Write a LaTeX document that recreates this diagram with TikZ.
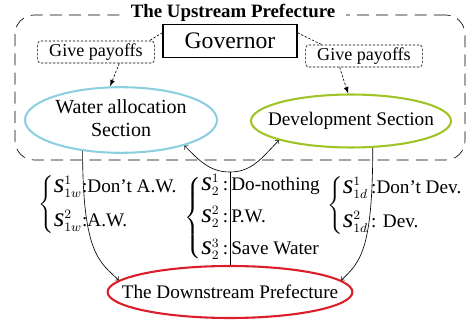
\documentclass[tikz,border=0pt]{standalone}
\usepackage{fontspec}
\setmainfont{Liberation Serif}
\usepackage{amsmath}
\usetikzlibrary{arrows,shapes,calc}
\definecolor{wablue}{RGB}{140,208,224}
\definecolor{devgreen}{RGB}{160,196,40}
\definecolor{downred}{RGB}{220,30,40}
\newcommand{\sv}[2]{\mbox{\fontsize{17}{17}\selectfont\textit{s}}^{#1}_{#2}}
\newcommand{\nowd}[1]{\makebox[0pt]{#1}}

\begin{document}
\begin{tikzpicture}[x=0.625pt, y=-0.625pt, font=\fontsize{12}{14}\selectfont,
	section/.style={ellipse, line width=1.3pt, inner sep=0pt},
	payoff/.style={draw, dash pattern=on 1.5pt off 1pt, rounded corners=2pt, minimum width=73pt, minimum height=13.8pt, inner sep=0pt, font=\fontsize{11.3}{13}\selectfont},
	strat/.style={anchor=west, inner sep=0pt}]
	\useasboundingbox (0,0) rectangle (475,323);
	\node[draw, dash pattern=on 7.5pt off 4.5pt, rounded corners=12pt, minimum width=281.25pt, minimum height=90.6pt] (upper) at (240,87.5) {};
	\node[fill=white, inner xsep=7pt, inner ysep=0pt, font=\fontsize{11.8}{13}\selectfont\bfseries] (title) at (233,13) {The Upstream Prefecture};

	\node[draw, line width=0.7pt, minimum width=83.75pt, minimum height=20.6pt, inner sep=0pt, font=\fontsize{14.8}{16}\selectfont] (gov) at (230,41) {Governor};
	\node[payoff] (gp1) at (96,52) {Give payoffs};
	\node[payoff] (gp2) at (364,56) {Give payoffs};

	\node[section, draw=wablue, minimum width=120pt, minimum height=31.9pt, font=\fontsize{12.5}{14.5}\selectfont] (wa) at (121,120) {\nowd{\begin{tabular}{@{}c@{}}Water allocation\\Section\end{tabular}}};
	\node[section, draw=devgreen, minimum width=125pt, minimum height=33.1pt] (dev) at (351,121) {\nowd{Development Section}};
	\node[section, draw=downred, minimum width=153pt, minimum height=32.5pt] (down) at (230,292) {\nowd{The Downstream Prefecture}};

	% payoffs from the governor
	\draw[dash pattern=on 1.5pt off 1pt] (gov.173) -- (gp1.12);
	\draw[dash pattern=on 1.5pt off 1pt, -latex] (gp1.-26) -- (wa.108);
	\draw[dash pattern=on 1.5pt off 1pt] (gov.7) -- (gp2.165);
	\draw[dash pattern=on 1.5pt off 1pt, -latex] (gp2.-155) -- (dev.96);

	% strategies
	\draw[->] (wa.-141) .. controls ($(wa.-141)+(0,105)$) and ($(down.174)+(-18,-18)$) .. (down.174);
	\draw[->] (dev.-51) .. controls ($(dev.-51)+(0,105)$) and ($(down.6)+(18,-18)$) .. (down.6);
	\coordinate (jn) at (230,172);
	\draw (down.north) -- (jn);
	\draw[->] (jn) to[out=180, in=-45] (wa.-22);
	\draw[->] (jn) to[out=0, in=-135] (dev.-165);

	\node[strat] (sw) at (38,205) {$\left\{\begin{tabular}{@{}l@{}}$\sv{1}{1w}$:Don't A.W.\\[7pt]$\sv{2}{1w}$:A.W.\end{tabular}\right.$};
	\node[strat] (s2) at (184,218) {$\left\{\begin{tabular}{@{}l@{}}$\sv{1}{2}$\,:\,Do-nothing\\[6pt]$\sv{2}{2}$\,:\,P.W.\\[6pt]$\sv{3}{2}$\,:\,Save Water\end{tabular}\right.$};
	\node[strat] (sd) at (327,206) {$\left\{\begin{tabular}{@{}l@{}}$\sv{1}{1d}$\,:Don't Dev.\\[7pt]$\sv{2}{1d}$\,: Dev.\end{tabular}\right.$};
\end{tikzpicture}
\end{document}
